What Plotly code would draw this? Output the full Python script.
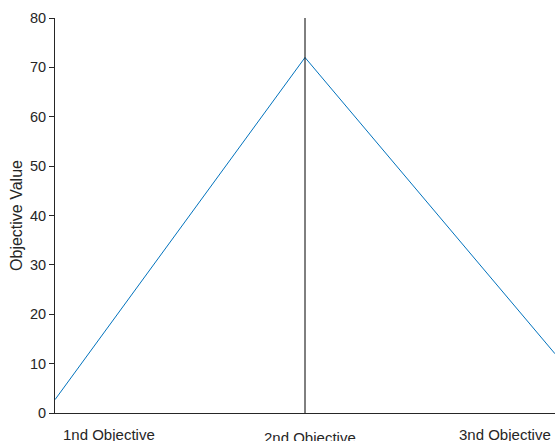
import plotly.graph_objects as go

# Objective positions and values
positions = [1, 2, 3]
values = [2.7, 72, 12]
labels = ["1nd Objective", "2nd Objective", "3nd Objective"]
y_ticks = [0, 10, 20, 30, 40, 50, 60, 70, 80]

fig = go.Figure()

fig.add_trace(go.Scatter(
    x=positions, y=values, mode="lines",
    line=dict(color="#0072BD", width=1),
    showlegend=False, hoverinfo="skip",
))

# Vertical marker at the middle objective
fig.add_shape(type="line", xref="x", yref="y",
              x0=positions[1], x1=positions[1], y0=0, y1=80,
              line=dict(color="black", width=1))

# Objective labels under the axis
anchors = ["left", "center", "right"]
shifts = [(6, -21), (5, -24), (-2, -21)]
for p, lab, a, (dx, dy) in zip(positions, labels, anchors, shifts):
    fig.add_annotation(x=p, y=0, xref="x", yref="y", text=lab,
                       showarrow=False, xanchor=a, yanchor="middle",
                       xshift=dx, yshift=dy,
                       font=dict(family="Liberation Sans, Arial", size=15, color="#262626"))

fig.update_layout(
    width=555, height=441,
    margin=dict(l=55, r=0, t=18, b=28),
    paper_bgcolor="white", plot_bgcolor="white",
    font=dict(family="Liberation Sans, Arial", size=14, color="#262626"),
    xaxis=dict(range=[1, 3], showgrid=False, zeroline=False,
               showticklabels=False, ticks="", showline=True,
               linecolor="#262626", linewidth=1),
    yaxis=dict(range=[0, 80], tickvals=y_ticks, showgrid=False, zeroline=False,
               ticks="outside", ticklen=5, tickcolor="#262626",
               tickfont=dict(size=14.5),
               showline=True, linecolor="#262626", linewidth=1,
               title=dict(text="Objective Value", standoff=3,
                          font=dict(size=16))),
)

fig.write_html("out.html")
